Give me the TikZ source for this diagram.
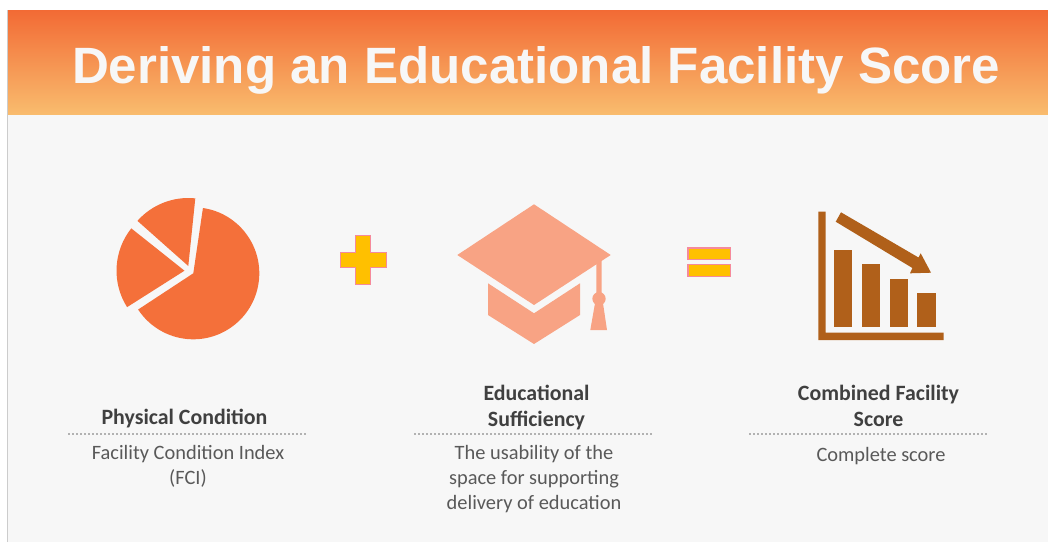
\documentclass[tikz,border=0pt]{standalone}
\usepackage{fontspec}
\setmainfont{Carlito}
\newfontfamily\titlefont{Liberation Sans}
\definecolor{hdrtop}{HTML}{F26B35}
\definecolor{hdrbot}{HTML}{F9BC6E}
\definecolor{panel}{HTML}{F7F7F7}
\definecolor{pieor}{HTML}{F4703A}
\definecolor{capcol}{HTML}{F8A384}
\definecolor{brownc}{HTML}{B0601A}
\definecolor{signfill}{HTML}{FFC000}
\definecolor{signline}{HTML}{F58A9C}
\tikzset{
  headtxt/.style={anchor=north,inner sep=0pt,align=center,font=\fontsize{16.4}{19.5}\selectfont\bfseries,text=black!75},
  bodytxt/.style={anchor=north,inner sep=0pt,align=center,font=\fontsize{15.3}{18.75}\selectfont,text=black!65},
  rule/.style={draw=black!30,line width=1.1pt,dash pattern=on 1.2pt off 1.8pt},
  sign/.style={fill=signfill,draw=signline,line width=1.1pt}
}
\begin{document}
\begin{tikzpicture}[x=0.75pt,y=-0.75pt]
\useasboundingbox (0,0) rectangle (1048,542);
\fill[white] (0,0) rectangle (1048,542);
\fill[panel] (7.5,10.5) rectangle (1048,542);
\draw[black!20,line width=0.7pt] (7.5,542) -- (7.5,10.5) -- (1048,10.5);
\shade[top color=hdrtop,bottom color=hdrbot] (8,11) rectangle (1048,114.5);
\node[inner sep=0pt,text=panel,font=\titlefont\fontsize{38.3}{44}\selectfont\bfseries] (title) at (536,70) {Deriving an Educational Facility Score};
% pie
\fill[pieor] (193.3,273.3) -- ++(81.6:49.5pt) arc[start angle=81.6,end angle=-146.7,radius=49.5pt] -- cycle;
\fill[pieor] (188.3,266) -- ++(84.1:51pt) arc[start angle=84.1,end angle=138.4,radius=51pt] -- cycle;
\fill[pieor] (184.5,270.7) -- ++(141.5:51pt) arc[start angle=141.5,end angle=212.4,radius=51pt] -- cycle;
% plus
\path[sign] (355.7,235.7) -- (370.3,235.7) -- (370.3,252.4) -- (386.6,252.4) -- (386.6,267.6) -- (370.3,267.6) -- (370.3,284.3) -- (355.7,284.3) -- (355.7,267.6) -- (340.7,267.6) -- (340.7,252.4) -- (355.7,252.4) -- cycle;
% mortarboard
\fill[capcol] (534,204.3) -- (610.7,255) -- (534,305) -- (457.3,255) -- cycle;
\fill[capcol] (488,283.3) -- (534,313.3) -- (580,283.3) -- (580,315) -- (534,344) -- (488,315) -- cycle;
\fill[capcol] (596.3,261) -- (601.7,258) -- (601.7,300) -- (596.3,300) -- cycle;
\fill[capcol] (599,298.7) circle[radius=5pt];
\fill[capcol] (595,303.3) -- (603,303.3) -- (607,330) -- (590.3,330) -- cycle;
% equals
\path[sign] (688,248) rectangle (730.3,259.3);
\path[sign] (688,264.7) rectangle (730.3,276.3);
% chart
\fill[brownc] (818.3,211.7) -- (825.7,211.7) -- (825.7,332.7) -- (943.7,332.7) -- (943.7,340) -- (818.3,340) -- cycle;
\fill[brownc] (834,250.3) rectangle (852.3,327.3);
\fill[brownc] (861.7,264.3) rectangle (880,327.3);
\fill[brownc] (889.7,278.7) rectangle (908,327.3);
\fill[brownc] (917.3,293) rectangle (935.7,327.3);
\fill[brownc] (841,212.3) -- (918.5,257.5) -- (920.7,253.3) -- (931,272.7) -- (910,273.3) -- (912.4,268) -- (835.7,221.7) -- cycle;
% labels
\coordinate (r1a) at (68,434); \coordinate (r1b) at (307,434);
\coordinate (r2a) at (414,434); \coordinate (r2b) at (653,434);
\coordinate (r3a) at (749,434); \coordinate (r3b) at (988,434);
\draw[rule] (r1a) -- (r1b);
\draw[rule] (r2a) -- (r2b);
\draw[rule] (r3a) -- (r3b);
\node[headtxt] (h1) at (184.5,408.5) {Physical Condition};
\node[headtxt] (h2) at (536.5,384.5) {Educational\\Sufficiency};
\node[headtxt] (h3) at (878.5,384.5) {Combined Facility\\Score};
\node[bodytxt] (b1) at (188,445) {Facility Condition Index\\(FCI)};
\node[bodytxt] (b2) at (534,445) {The usability of the\\space for supporting\\delivery of education};
\node[bodytxt] (b3) at (881,447.5) {Complete score};
\end{tikzpicture}
\end{document}
